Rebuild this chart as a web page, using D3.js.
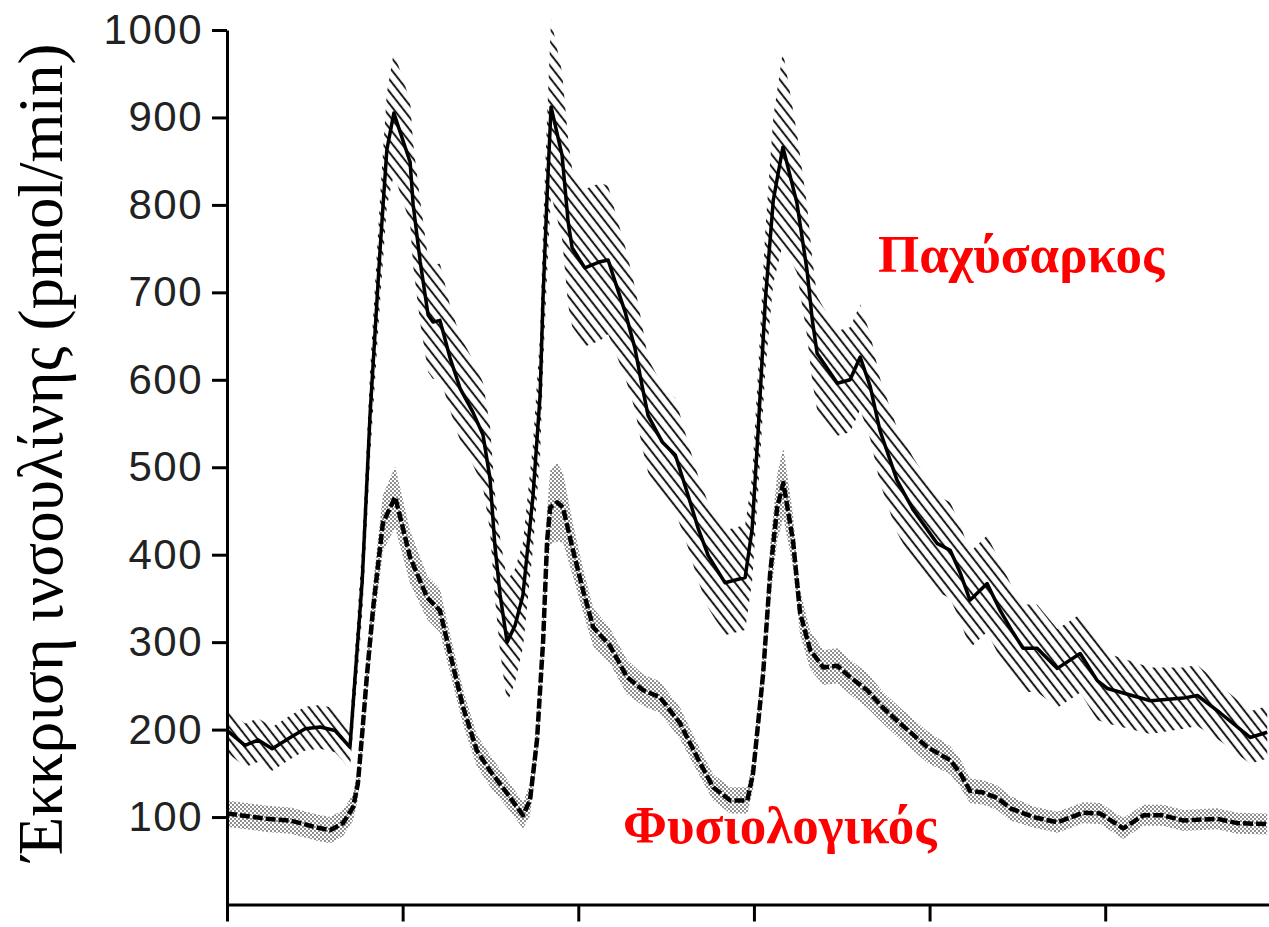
<!DOCTYPE html>
<html>
<head>
<meta charset="utf-8">
<script src="https://cdn.jsdelivr.net/npm/d3@7"></script>
<style>
  body { margin: 0; background: #fff; }
  svg { display: block; }
</style>
</head>
<body>
<div class="chart"></div>
<script>
// Insulin secretion over ~24 h, obese vs normal subjects (mean +/- SE)
// time is hours from the start of the recording
const obeseHours = [0, 0.41, 0.71, 1.03, 1.44, 1.78, 2.12, 2.46, 2.80, 3.08,
  3.26, 3.49, 3.64, 3.80, 4.17, 4.24, 4.40, 4.58, 4.69, 4.85,
  5.08, 5.31, 5.60, 5.83, 5.99, 6.10, 6.22, 6.38, 6.56, 6.74,
  6.97, 7.13, 7.20, 7.29, 7.38, 7.63, 7.77, 7.86, 8.15, 8.50,
  8.68, 8.84, 9.07, 9.29, 9.45, 9.59, 9.91, 10.21, 10.50, 10.73,
  10.96, 11.34, 11.80, 11.96, 12.10, 12.26, 12.44, 12.66, 12.98, 13.21,
  13.33, 13.44, 13.90, 14.19, 14.42, 14.65, 14.87, 15.26, 15.63, 16.17,
  16.47, 16.70, 16.92, 17.31, 17.61, 17.90, 18.13, 18.45, 18.91, 19.43,
  19.82, 20.05, 21.03, 21.78, 22.10, 22.62, 23.30, 23.69];
const obeseValues = [199, 182, 188, 178, 191, 201, 203, 199, 180, 371,
  562, 752, 863, 905, 849, 800, 735, 674, 666, 668,
  625, 590, 563, 537, 487, 411, 354, 300, 319, 354,
  468, 582, 697, 811, 912, 857, 780, 751, 728, 735,
  737, 712, 677, 636, 594, 559, 529, 514, 468, 430,
  399, 368, 374, 430, 545, 691, 805, 866, 802, 725,
  668, 630, 596, 600, 626, 592, 542, 485, 451, 413,
  405, 379, 348, 367, 336, 311, 293, 293, 270, 287,
  256, 247, 233, 236, 239, 219, 191, 197];
const obeseErr = [25, 25, 25, 25, 25, 25, 25, 25, 25, 40,
  50, 60, 65, 70, 70, 70, 70, 65, 65, 65,
  60, 60, 60, 60, 60, 60, 65, 70, 65, 60,
  60, 70, 80, 90, 100, 95, 95, 90, 90, 90,
  85, 80, 75, 70, 70, 65, 65, 65, 60, 60,
  60, 60, 60, 60, 70, 80, 95, 110, 80, 75,
  70, 65, 60, 60, 60, 60, 60, 60, 60, 55,
  55, 55, 55, 55, 55, 50, 50, 50, 45, 45,
  45, 40, 38, 35, 35, 32, 30, 30];

const normalHours = [0, 0.91, 1.44, 2.05, 2.35, 2.64, 2.87, 2.98, 3.08, 3.19,
  3.33, 3.55, 3.83, 4.17, 4.56, 4.85, 5.08, 5.38, 5.69, 5.99,
  6.38, 6.74, 6.90, 7.06, 7.20, 7.29, 7.36, 7.52, 7.65, 7.88,
  8.11, 8.34, 8.72, 9.11, 9.48, 9.86, 10.32, 10.71, 11.07, 11.46,
  11.85, 11.98, 12.21, 12.37, 12.53, 12.67, 12.89, 13.05, 13.28, 13.58,
  13.90, 14.19, 14.58, 14.94, 15.33, 15.95, 16.47, 16.70, 16.92, 17.22,
  17.54, 17.84, 18.36, 18.91, 19.50, 19.89, 20.41, 20.87, 21.32, 21.78,
  22.55, 23.01, 23.69];
const normalValues = [104, 98, 96, 88, 85, 93, 111, 138, 196, 264,
  340, 436, 466, 397, 351, 336, 287, 225, 176, 153,
  127, 102, 119, 188, 302, 416, 454, 460, 454, 405,
  359, 317, 296, 260, 245, 237, 207, 168, 134, 119,
  119, 150, 264, 379, 454, 482, 416, 334, 291, 271,
  273, 260, 245, 225, 207, 180, 165, 150, 130, 128,
  122, 110, 100, 94, 105, 104, 87, 102, 102, 96,
  98, 93, 92];
const normalErr = [15, 15, 15, 15, 15, 15, 15, 18, 22, 25,
  28, 32, 35, 30, 25, 25, 22, 20, 18, 18,
  16, 15, 18, 22, 28, 35, 42, 45, 40, 30,
  25, 22, 20, 20, 18, 18, 18, 16, 15, 15,
  15, 18, 25, 32, 38, 40, 30, 25, 22, 20,
  20, 20, 20, 18, 18, 18, 16, 16, 14, 14,
  14, 14, 12, 12, 12, 12, 12, 12, 12, 12,
  12, 12, 12];

const yTicks = [100, 200, 300, 400, 500, 600, 700, 800, 900, 1000];
const xTicks = [0, 4, 8, 12, 16, 20];
const yLabel = "Έκκριση ινσουλίνης (pmol/min)";
const obeseLabel = "Παχύσαρκος";
const normalLabel = "Φυσιολογικός";

function toPoints(hours, values, err) {
  return hours.map((h, i) => ({ h: h, v: values[i], e: err[i] }));
}

const width = 1269;
const height = 927;

const svg = d3.select(".chart")
  .append("svg")
  .attr("width", width)
  .attr("height", height);

const x = d3.scaleLinear().domain([0, 23.73]).range([227, 1269]);
const y = d3.scaleLinear().domain([0, 1000]).range([904.5, 30]);

// fill patterns: hatching for obese, stipple for normal
const defs = svg.append("defs");
const hatch = defs.append("pattern")
  .attr("id", "hatch")
  .attr("patternUnits", "userSpaceOnUse")
  .attr("width", 7.5)
  .attr("height", 10)
  .attr("patternTransform", "rotate(-38)");
hatch.append("line")
  .attr("x1", 3).attr("y1", 0).attr("x2", 3).attr("y2", 10)
  .attr("stroke", "#000").attr("stroke-width", 1.8);

const stipple = defs.append("pattern")
  .attr("id", "stipple")
  .attr("patternUnits", "userSpaceOnUse")
  .attr("width", 4)
  .attr("height", 4);
stipple.append("circle").attr("cx", 1).attr("cy", 1).attr("r", 0.8).attr("fill", "#000");
stipple.append("circle").attr("cx", 3).attr("cy", 3).attr("r", 0.8).attr("fill", "#000");

const obese = toPoints(obeseHours, obeseValues, obeseErr);
const normal = toPoints(normalHours, normalValues, normalErr);

const band = d3.area()
  .x(d => x(d.h))
  .y0(d => y(d.v - d.e))
  .y1(d => y(d.v + d.e));

const line = d3.line()
  .x(d => x(d.h))
  .y(d => y(d.v));

svg.append("path")
  .datum(obese)
  .attr("d", band)
  .attr("fill", "url(#hatch)");

svg.append("path")
  .datum(normal)
  .attr("d", band)
  .attr("fill", "url(#stipple)");

svg.append("path")
  .datum(obese)
  .attr("d", line)
  .attr("fill", "none")
  .attr("stroke", "#000")
  .attr("stroke-width", 3.5)
  .attr("stroke-linejoin", "round");

svg.append("path")
  .datum(normal)
  .attr("d", line)
  .attr("fill", "none")
  .attr("stroke", "#000")
  .attr("stroke-width", 4.5)
  .attr("stroke-dasharray", "10,3")
  .attr("stroke-linejoin", "round");

// axes
const yAxis = svg.append("g")
  .attr("transform", "translate(227,0)")
  .call(d3.axisLeft(y).tickValues(yTicks).tickFormat(d3.format("d"))
    .tickSize(15).tickSizeOuter(0).tickPadding(9));

const xAxis = svg.append("g")
  .attr("transform", "translate(0,904.5)")
  .call(d3.axisBottom(x).tickValues(xTicks).tickSize(17).tickSizeOuter(0).tickFormat(""));

svg.selectAll(".domain, .tick line")
  .attr("stroke", "#000")
  .attr("stroke-width", 3);

yAxis.selectAll("text")
  .attr("fill", "#222")
  .style("font-family", "'Liberation Sans', Arial, sans-serif")
  .style("font-size", "42px")
  .style("letter-spacing", "1.5px");

// titles
svg.append("text")
  .attr("transform", "translate(62,452) rotate(-90)")
  .attr("text-anchor", "middle")
  .style("font-family", "'Liberation Serif', 'Times New Roman', serif")
  .style("font-size", "63px")
  .attr("fill", "#000")
  .text(yLabel);

svg.append("text")
  .attr("x", 878)
  .attr("y", 272)
  .style("font-family", "'Liberation Serif', 'Times New Roman', serif")
  .style("font-size", "53px")
  .style("font-weight", "bold")
  .attr("fill", "#ff0000")
  .text(obeseLabel);

svg.append("text")
  .attr("x", 623)
  .attr("y", 843)
  .style("font-family", "'Liberation Serif', 'Times New Roman', serif")
  .style("font-size", "53px")
  .style("font-weight", "bold")
  .attr("fill", "#ff0000")
  .text(normalLabel);
</script>
</body>
</html>
